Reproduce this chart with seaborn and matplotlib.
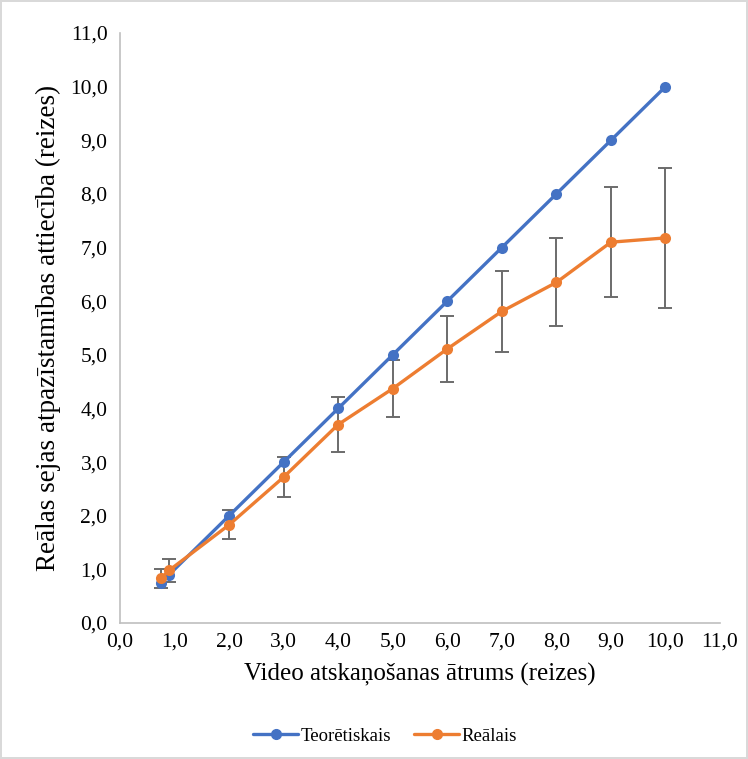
import pandas as pd
import matplotlib
matplotlib.use("Agg")
import matplotlib.pyplot as plt
from matplotlib.ticker import FuncFormatter, MultipleLocator
from matplotlib.lines import Line2D
import seaborn as sns

# ---------- DATA ----------
speed = [0.75, 0.9, 2, 3, 4, 5, 6, 7, 8, 9, 10]
theoretical = [0.75, 0.9, 2, 3, 4, 5, 6, 7, 8, 9, 10]
real = [0.83, 0.98, 1.83, 2.72, 3.70, 4.37, 5.11, 5.81, 6.35, 7.10, 7.18]
real_err = [0.17, 0.22, 0.27, 0.37, 0.52, 0.53, 0.61, 0.75, 0.82, 1.03, 1.31]
series_names = ["Teorētiskais", "Reālais"]
colors = ["#4472C4", "#ED7D31"]

df = pd.DataFrame({
    "speed": speed * 2,
    "ratio": theoretical + real,
    "series": [series_names[0]] * len(speed) + [series_names[1]] * len(speed),
})

# ---------- STYLE ----------
sns.set_style("white")
plt.rcParams["font.family"] = ["Liberation Serif", "DejaVu Serif"]
plt.rcParams["text.color"] = "black"
plt.rcParams["axes.labelcolor"] = "black"
plt.rcParams["xtick.color"] = "black"
plt.rcParams["ytick.color"] = "black"

fig = plt.figure(figsize=(7.48, 7.59), dpi=100)
fig.patch.set_edgecolor("#d9d9d9")
fig.patch.set_linewidth(1.5)
ax = fig.add_axes([0.1604, 0.1792, 0.8022, 0.7773])

# error bars on the real series
ax.errorbar(speed, real, yerr=real_err, fmt="none", ecolor="#6b6b6b",
            elinewidth=1.4, capsize=5, capthick=1.4, zorder=1)

sns.lineplot(data=df, x="speed", y="ratio", hue="series", palette=colors,
             marker="o", markersize=8, markeredgewidth=0, linewidth=2.4,
             legend=False, ax=ax, zorder=2)

# ---------- AXES ----------
ax.set_xlim(0, 11)
ax.set_ylim(0, 11)
ax.xaxis.set_major_locator(MultipleLocator(1))
ax.yaxis.set_major_locator(MultipleLocator(1))
comma = FuncFormatter(lambda v, p: f"{v:.1f}".replace(".", ","))
ax.xaxis.set_major_formatter(comma)
ax.yaxis.set_major_formatter(comma)
ax.tick_params(axis="both", labelsize=15.5, length=0)
ax.tick_params(axis="y", pad=9)
ax.tick_params(axis="x", pad=7)

for s in ["top", "right"]:
    ax.spines[s].set_visible(False)
for s in ["left", "bottom"]:
    ax.spines[s].set_color("#bfbfbf")
    ax.spines[s].set_linewidth(1.2)

ax.set_xlabel("Video atskaņošanas ātrums (reizes)", fontsize=18, labelpad=8)
ax.set_ylabel("Reālas sejas atpazīstamības attiecība (reizes)", fontsize=19.5,
              labelpad=6)

# ---------- LEGEND ----------
handles = [Line2D([0], [0], color=c, marker="o", markersize=7, linewidth=2.4)
           for c in colors]
fig.legend(handles, series_names, loc="center", bbox_to_anchor=(0.515, 0.03),
           ncol=2, frameon=False, fontsize=13.5, handlelength=2.4,
           columnspacing=1.2, handletextpad=0.15)

plt.savefig("out.png", dpi=100)
plt.close()
